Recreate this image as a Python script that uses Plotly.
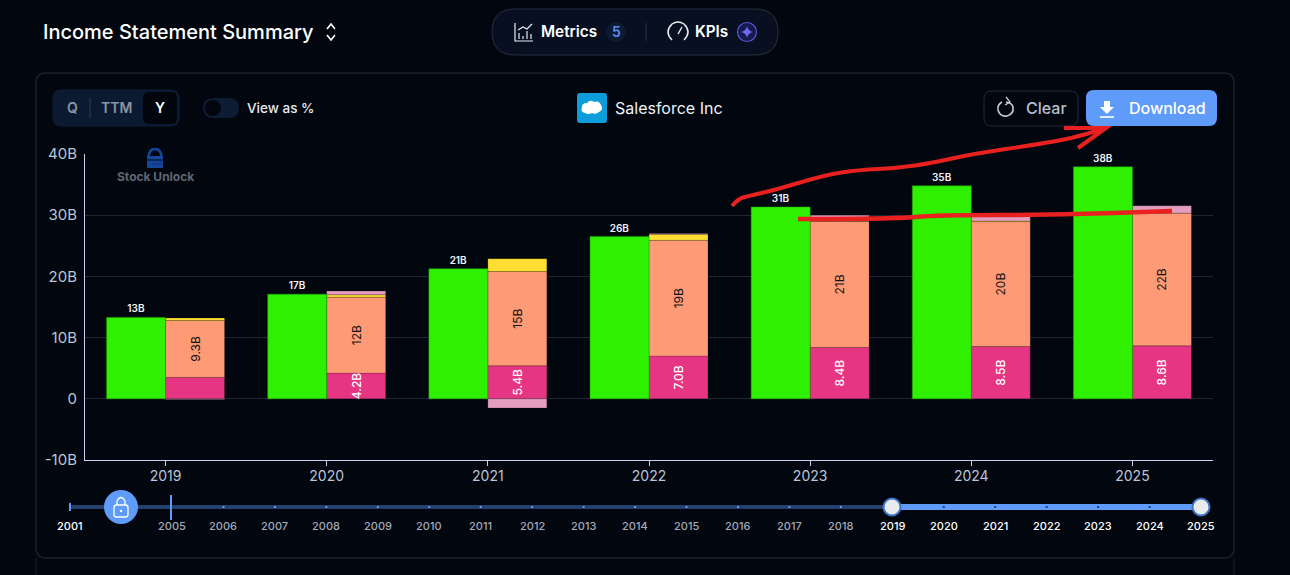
import plotly.graph_objects as go

W = 1290
H = 575

# values, in billions
years = ["2019", "2020", "2021", "2022", "2023", "2024", "2025"]
revenue = [13.3, 17.1, 21.25, 26.5, 31.35, 34.8, 37.9]
revenue_labels = ["13B", "17B", "21B", "26B", "31B", "35B", "38B"]
cost_pink = [3.5, 4.2, 5.4, 7.0, 8.4, 8.55, 8.65]
cost_pink_labels = ["", "4.2B", "5.4B", "7.0B", "8.4B", "8.5B", "8.6B"]
cost_orange = [9.3, 12.4, 15.4, 18.9, 20.6, 20.4, 21.7]
cost_orange_labels = ["9.3B", "12B", "15B", "19B", "21B", "20B", "22B"]
cost_yellow = [0.4, 0.4, 2.1, 1.0, 0.05, 0.1, 0.0]
cost_pale = [-0.1, 0.6, -1.5, 0.1, 0.95, 0.75, 1.2]

y_ticks = [-10, 0, 10, 20, 30, 40]
y_tick_labels = ["-10B", "0", "10B", "20B", "30B", "40B"]
slider_years = [2001] + list(range(2005, 2026))

# tooltip left faintly behind the bars in the screenshot
ghost_rows = ["Total Revenue", "Cost of Goods Sold ($)", "Operating Expenses",
              "Net Interest Expense", "Income Tax Expense"]
ghost_values = ["$17.10B", "$4.24B", "$12.40B", "$15.00M", "$274.00M"]

BG = "#01060f"
GHOST = "rgba(255,255,255,0.025)"
FONT = "Inter"


def fx(x):
    return x / W


def fy(y):
    return 1 - y / H


def path(cmds):
    # cmds use page pixels, converted to paper fractions
    out = []
    for c in cmds:
        if isinstance(c, str):
            out.append(c)
        else:
            out.append(f"{fx(c[0]):.5f},{fy(c[1]):.5f}")
    return " ".join(out)


shapes = []


def add_path(cmds, fill=None, line=None, width=1):
    shapes.append(dict(
        type="path", xref="paper", yref="paper", path=path(cmds),
        fillcolor=fill if fill else "rgba(0,0,0,0)",
        line=dict(color=line if line else "rgba(0,0,0,0)", width=width if line else 0),
        layer="above",
    ))


def rrect(x0, y0, x1, y1, r, fill=None, line=None, width=1):
    add_path([
        "M", (x0 + r, y0), "L", (x1 - r, y0), "Q", (x1, y0), (x1, y0 + r),
        "L", (x1, y1 - r), "Q", (x1, y1), (x1 - r, y1),
        "L", (x0 + r, y1), "Q", (x0, y1), (x0, y1 - r),
        "L", (x0, y0 + r), "Q", (x0, y0), (x0 + r, y0), "Z",
    ], fill, line, width)


def circle(cx, cy, r, fill=None, line=None, width=1):
    shapes.append(dict(
        type="circle", xref="paper", yref="paper",
        x0=fx(cx - r), x1=fx(cx + r), y0=fy(cy + r), y1=fy(cy - r),
        fillcolor=fill if fill else "rgba(0,0,0,0)",
        line=dict(color=line if line else "rgba(0,0,0,0)", width=width if line else 0),
        layer="above",
    ))


def seg(x0, y0, x1, y1, color, width=1):
    add_path(["M", (x0, y0), "L", (x1, y1)], None, color, width)


def scribble(points, color, width):
    # smooth pen stroke through the traced points
    cmds = ["M", points[0]]
    for a, b in zip(points[1:-1], points[2:]):
        cmds += ["Q", a, ((a[0] + b[0]) / 2, (a[1] + b[1]) / 2)]
    cmds += ["L", points[-1]]
    add_path(cmds, None, color, width)


annotations = []


def label(x, y, text, size=14, color="#ffffff", anchor="left", weight=400):
    annotations.append(dict(
        x=fx(x), y=fy(y), xref="paper", yref="paper", text=text, showarrow=False,
        xanchor=anchor, yanchor="middle", xshift=-2 if anchor == "left" else 0,
        font=dict(family=FONT, size=size, color=color, weight=weight),
    ))


# panel outlines
rrect(36, 73, 1234, 558, 10, None, "#1b212e", 1.5)
seg(36, 558, 36, 575, "#1b212e")
seg(1234, 558, 1234, 575, "#1b212e")

# page header
label(43, 32, "Income Statement Summary", 20, "#ffffff", weight=500)
add_path(["M", (327, 29), "L", (331, 24), "L", (335, 29)], None, "#ffffff", 1.6)
add_path(["M", (327, 35), "L", (331, 40), "L", (335, 35)], None, "#ffffff", 1.6)

rrect(492, 9, 778, 55, 23, "#070f20", "#2a3040", 1)
seg(646, 23, 646, 41, "#2a3040")
add_path(["M", (515, 23), "L", (515, 41), "L", (533, 41)], None, "#e8ecf3", 1.2)
for bx, by in [(519, 33), (523, 36), (527, 31), (531, 34)]:
    seg(bx, by, bx, 39, "#e8ecf3", 1.2)
add_path(["M", (518, 30), "L", (523, 27), "L", (527, 29), "L", (532, 24)], None, "#e8ecf3", 1.2)
label(541, 32, "Metrics", 15.3, "#ffffff", weight=600)
circle(616, 32, 10, "#0c1a33")
label(616, 32, "5", 14, "#5b8def", "center", 600)
add_path(["M", (672, 40), "Q", (664, 32), (672, 24), "Q", (678, 20), (684, 24),
          "Q", (692, 32), (684, 40)], None, "#e8ecf3", 1.5)
seg(678, 34, 682, 27, "#e8ecf3", 1.5)
label(695, 32, "KPIs", 15.3, "#ffffff", weight=600)
circle(747, 32, 9.5, "#151a4a", "#5a55d8", 1.2)
add_path(["M", (747, 26), "Q", (748, 31), (753, 32), "Q", (748, 33), (747, 38),
          "Q", (746, 33), (741, 32), "Q", (746, 31), (747, 26), "Z"], "#6f66f0")

# period switch and toggle
rrect(53, 90, 179, 126, 8, "#0b1a30", "#0e1f3a", 1)
rrect(143, 92, 177, 124, 6, "#01050c")
seg(90, 98, 90, 118, "#2a3a55")
label(72, 108, "Q", 14, "#8b95a6", "center", 600)
label(116, 108, "TTM", 14, "#8b95a6", "center", 600)
label(160, 108, "Y", 14, "#ffffff", "center", 600)
rrect(203, 98, 239, 118, 10, "#0d1c33")
circle(213, 108, 8, "#01060f")
label(247, 108, "View as %", 13.5, "#e6e9ef", weight=500)

# company logo and name
rrect(577, 93, 607, 123, 3, "#0d9dda")
add_path(["M", (585, 113), "Q", (580, 112), (582, 107), "Q", (582, 103), (587, 103),
          "Q", (590, 99), (594, 102), "Q", (599, 100), (601, 105),
          "Q", (604, 110), (599, 112), "Q", (596, 115), (592, 113),
          "Q", (588, 115), (585, 113), "Z"], "#ffffff")
label(615, 108, "Salesforce Inc", 16, "#f0f2f6")

# buttons
rrect(984, 91, 1078, 126, 8, None, "#232a3a", 1)
add_path(["M", (1002, 102), "Q", (997, 105), (998, 110), "Q", (1000, 117), (1007, 116),
          "Q", (1014, 114), (1013, 107), "Q", (1012, 103), (1006, 102)], None, "#c6ccd6", 1.6)
add_path(["M", (1006, 97), "L", (1010, 102), "L", (1005, 105)], None, "#c6ccd6", 1.3)
label(1046, 108, "Clear", 16, "#b9c0cc", "center", 500)
rrect(1086, 90, 1217, 126, 8, "#5f9bf8")
add_path(["M", (1104, 101), "L", (1110, 101), "L", (1110, 107), "L", (1114, 107),
          "L", (1107, 114), "L", (1100, 107), "L", (1104, 107), "Z"], "#ffffff")
seg(1100, 117, 1114, 117, "#ffffff", 1.6)
label(1167, 108, "Download", 16, "#ffffff", "center", 500)

# watermark
rrect(147, 156, 163, 168, 1, "#14479a")
add_path(["M", (148.5, 157), "Q", (149, 149), (155, 149), "Q", (161, 149), (161.5, 157)],
         None, "#14479a", 2.5)
seg(147, 160, 163, 160, BG, 1)
seg(152, 164, 163, 164, "#0d2f68", 1)
label(155.5, 177, "Stock Unlock", 12, "#5f6672", "center", 700)

# faint leftover tooltip
label(438, 205, "2020-01-31", 16, GHOST, weight=600)
for i, row in enumerate(ghost_rows):
    row_y = 232 + i * 29
    if i == 1:
        label(670, row_y, row, 16, GHOST, "right", 600)
    else:
        label(463 if i == 0 else 440, row_y, row, 16, GHOST, weight=600)
    label(743, row_y, ghost_values[i], 16, GHOST, "right", 600)

# year slider
seg(70, 507, 892, 507, "#24406f", 4)
seg(892, 507, 1201, 507, "#5f9bf8", 6)
seg(70, 503, 70, 511, "#5f9bf8", 2)
seg(171, 495, 171, 520, "#5f9bf8", 2)
for yr in slider_years:
    if yr == 2001:
        tick_x = 69.5
    else:
        tick_x = 172 + (yr - 2005) * 51.45
    on = yr >= 2019
    if 2005 < yr < 2019:
        seg(tick_x - 1, 507, tick_x + 1, 507, "#5f9bf8", 2)
    if 2019 < yr < 2025:
        seg(tick_x - 1, 507, tick_x + 1, 507, "#24406f", 2)
    color = "#ffffff" if on or yr == 2001 else "#a3abb8"
    label(tick_x, 526, str(yr), 11, color, "center", 500)
circle(121, 507, 17, "#5f9bf8")
rrect(114, 505, 128, 517, 2.5, None, "#ffffff", 1.3)
add_path(["M", (117, 505), "L", (117, 501), "Q", (121, 494), (125, 501), "L", (125, 505)],
         None, "#ffffff", 1.3)
circle(121, 511, 1.2, "#ffffff")
for hx in [892, 1201]:
    circle(hx, 507, 8.5, "#e9ebef", "#3f73c4", 2)

# red marker scribbles on top
RED = "#e8201f"
scribble([(732, 206), (738, 199), (748, 196), (775, 190), (825, 175), (858, 170),
          (898, 168), (932, 163), (972, 154), (1040, 144), (1073, 138), (1103, 129)], RED, 4)
add_path(["M", (1064, 128), "L", (1106, 128), "L", (1078, 148)], None, RED, 4)
scribble([(798, 219), (892, 219), (938, 215), (1055, 215), (1172, 211)], RED, 4.5)

fig = go.Figure()

bar_line = dict(width=0.5, color="rgba(0,0,0,0.35)")
stack_args = dict(x=years, offset=0, width=0.366, marker_line=bar_line,
                  cliponaxis=False, textangle=-90, insidetextanchor="middle",
                  constraintext="none", hoverinfo="skip")

fig.add_trace(go.Bar(y=cost_pink, marker_color="#e63583", text=cost_pink_labels,
                     textposition="inside",
                     textfont=dict(family=FONT, size=12, color="#ffffff", weight=500),
                     name="pink", **stack_args))
fig.add_trace(go.Bar(y=cost_orange, marker_color="#ff9a76", text=cost_orange_labels,
                     textposition="inside",
                     textfont=dict(family=FONT, size=12, color="#111111", weight=400),
                     name="orange", **stack_args))
fig.add_trace(go.Bar(y=cost_yellow, marker_color="#ffdd33", name="yellow", **stack_args))
fig.add_trace(go.Bar(y=cost_pale, marker_color="#e29dc0", name="pale", **stack_args))

fig.add_trace(go.Bar(x=years, y=revenue, yaxis="y2", offset=-0.366, width=0.366,
                     marker_color="#2ff000", marker_line=dict(width=0.5, color="#1f9f00"),
                     text=revenue_labels, textposition="outside", textangle=0,
                     textfont=dict(family=FONT, size=10, color="#f2f4f7", weight=600),
                     constraintext="none", cliponaxis=False, name="revenue", hoverinfo="skip"))

y_range = [-10, 40]
fig.update_layout(
    width=W, height=H,
    margin=dict(l=0, r=0, t=0, b=0, autoexpand=False),
    paper_bgcolor=BG, plot_bgcolor=BG,
    barmode="relative",
    showlegend=False,
    font=dict(family=FONT),
    shapes=shapes,
    annotations=annotations,
    xaxis=dict(
        domain=[fx(85), fx(1213)], type="category", range=[-0.5, 6.5], automargin=False,
        showline=True, linecolor="#c5d3ee", linewidth=1,
        ticks="outside", ticklen=5, tickcolor="#c5d3ee",
        tickfont=dict(family=FONT, size=14, color="#b9c5da"),
        ticklabelstandoff=-2,
        showgrid=False, zeroline=False,
    ),
    yaxis=dict(
        domain=[fy(460), fy(154)], range=y_range, automargin=False,
        tickvals=y_ticks, ticktext=y_tick_labels,
        showline=True, linecolor="#c5d3ee", linewidth=1,
        gridcolor="#1f2533", gridwidth=1, zeroline=True, zerolinecolor="#1f2533",
        zerolinewidth=1,
        tickfont=dict(family=FONT, size=15, color="#b9c5da"),
        ticks="", ticklabelstandoff=4,
    ),
    yaxis2=dict(overlaying="y", range=y_range, visible=False, automargin=False),
)

fig.write_html(
    "out.html",
    config={"displayModeBar": False},
    post_script="document.body.style.margin='0';document.body.style.background='%s';"
                "document.body.style.overflow='hidden';" % BG,
)
